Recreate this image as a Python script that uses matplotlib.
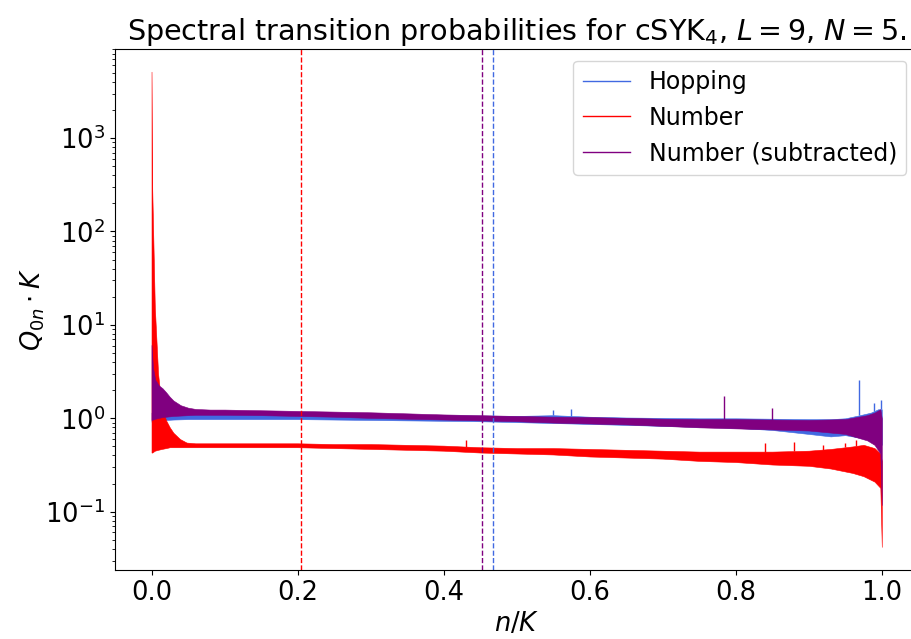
import matplotlib
matplotlib.use("Agg")
import matplotlib.pyplot as plt
import numpy as np

# ---------------- data ----------------
# Hopping (blue) band: x, lower edge, upper edge
hop_x  = [0.000, 0.010, 0.030, 0.050, 0.100, 0.150, 0.200, 0.250, 0.300, 0.350, 0.400, 0.450,
          0.500, 0.550, 0.600, 0.650, 0.700, 0.750, 0.800, 0.850, 0.900, 0.930, 0.950, 0.970,
          0.985, 0.995, 1.000]
hop_lo = [0.92, 0.95, 0.97, 0.98, 0.98, 0.98, 0.98, 0.97, 0.96, 0.95, 0.94, 0.93,
          0.91, 0.89, 0.87, 0.85, 0.83, 0.81, 0.79, 0.75, 0.68, 0.64, 0.66, 0.62,
          0.58, 0.55, 0.52]
hop_hi = [1.15, 1.10, 1.10, 1.10, 1.12, 1.12, 1.12, 1.11, 1.10, 1.09, 1.08, 1.07,
          1.06, 1.08, 1.04, 1.02, 1.01, 1.00, 1.00, 0.99, 0.98, 0.98, 1.00, 1.08,
          1.15, 1.25, 1.25]

# Number (red) band
num_x  = [0.000, 0.001, 0.0045, 0.009, 0.014, 0.020, 0.025, 0.030, 0.039, 0.048, 0.060,
          0.100, 0.150, 0.200, 0.250, 0.300, 0.350, 0.400, 0.450, 0.500, 0.550, 0.600,
          0.650, 0.700, 0.750, 0.800, 0.850, 0.900, 0.930, 0.960, 0.975, 0.990, 0.998, 1.000]
num_lo = [0.43, 0.43, 0.45, 0.46, 0.47, 0.48, 0.49, 0.49, 0.49, 0.49, 0.49,
          0.49, 0.49, 0.49, 0.48, 0.47, 0.46, 0.45, 0.43, 0.42, 0.41, 0.39,
          0.38, 0.37, 0.35, 0.34, 0.32, 0.31, 0.29, 0.26, 0.24, 0.21, 0.18, 0.042]
num_hi = [5140, 280, 15.7, 3.0, 1.3, 0.95, 0.80, 0.70, 0.60, 0.55, 0.54,
          0.54, 0.54, 0.54, 0.53, 0.53, 0.52, 0.51, 0.49, 0.48, 0.48, 0.47,
          0.46, 0.45, 0.44, 0.44, 0.44, 0.45, 0.47, 0.50, 0.52, 0.48, 0.42, 0.35]

# Number (subtracted) (purple) band
sub_x  = [0.000, 0.002, 0.005, 0.010, 0.015, 0.020, 0.025, 0.030, 0.040, 0.050, 0.060,
          0.080, 0.100, 0.150, 0.200, 0.250, 0.300, 0.350, 0.400, 0.450, 0.500, 0.550,
          0.600, 0.650, 0.700, 0.750, 0.800, 0.850, 0.900, 0.950, 0.980, 0.990, 0.998, 1.000]
sub_lo = [0.96, 0.97, 0.99, 1.01, 1.03, 1.04, 1.05, 1.06, 1.07, 1.08, 1.09,
          1.09, 1.09, 1.08, 1.06, 1.04, 1.01, 0.99, 0.97, 0.95, 0.93, 0.90,
          0.88, 0.86, 0.83, 0.80, 0.78, 0.76, 0.74, 0.68, 0.58, 0.52, 0.42, 0.118]
sub_hi = [6.10, 3.50, 2.60, 2.25, 2.10, 1.90, 1.70, 1.55, 1.38, 1.30, 1.26,
          1.24, 1.24, 1.22, 1.20, 1.18, 1.16, 1.13, 1.10, 1.08, 1.06, 1.04,
          1.03, 1.01, 0.99, 0.98, 0.98, 0.97, 0.96, 0.98, 1.08, 1.15, 1.25, 1.00]

# isolated spikes: x, tip value
hop_spk_x = [0.550, 0.575, 0.969, 0.990, 0.9986]
hop_spk_y = [1.22, 1.25, 2.57, 1.47, 1.57]
num_spk_x = [0.430, 0.840, 0.880, 0.920, 0.950, 0.965]
num_spk_y = [0.58, 0.54, 0.56, 0.52, 0.55, 0.58]
sub_spk_x = [0.784, 0.850]
sub_spk_y = [1.75, 1.30]

# vertical dashed markers
vline_x      = [0.2043, 0.4526, 0.4675]
vline_colors = ["red", "purple", "royalblue"]

labels = ["Hopping", "Number", "Number (subtracted)"]
colors = ["royalblue", "red", "purple"]

# ---------------- figure ----------------
W, H = 911, 639
fig = plt.figure(figsize=(W / 100, H / 100), dpi=100)
ax = fig.add_axes([115 / W, (H - 570) / H, (918.3 - 115) / W, (570 - 48.7) / H])

bands = [(hop_x, hop_lo, hop_hi), (num_x, num_lo, num_hi), (sub_x, sub_lo, sub_hi)]
spikes = [(hop_spk_x, hop_spk_y), (num_spk_x, num_spk_y), (sub_spk_x, sub_spk_y)]
for (bx, blo, bhi), (sx, sy), c, lab in zip(bands, spikes, colors, labels):
    ax.fill_between(bx, blo, bhi, color=c, linewidth=0.4)
    base = np.interp(sx, bx, bhi)
    ax.vlines(sx, base, sy, color=c, linewidth=1.0)
    ax.plot([], [], color=c, linewidth=1.0, label=lab)

for vx, vc in zip(vline_x, vline_colors):
    ax.axvline(vx, color=vc, linestyle="--", linewidth=1.0)

ax.set_yscale("log")
ax.set_xlim(-0.05, 1.05)
ax.set_ylim(10 ** -1.624, 10 ** 3.957)
ax.set_xticks([0.0, 0.2, 0.4, 0.6, 0.8, 1.0])
ax.tick_params(labelsize=18.5)
ax.set_xlabel("$n/K$", fontsize=18.5)
ax.set_ylabel(r"$Q_{0n}\cdot K$", fontsize=18.5, labelpad=-1.5)
ax.set_title("Spectral transition probabilities for cSYK$_4$, $L=9$, $N=5$.", fontsize=20.6)
ax.legend(loc="upper right", fontsize=17)

fig.savefig("out.png", dpi=100)
